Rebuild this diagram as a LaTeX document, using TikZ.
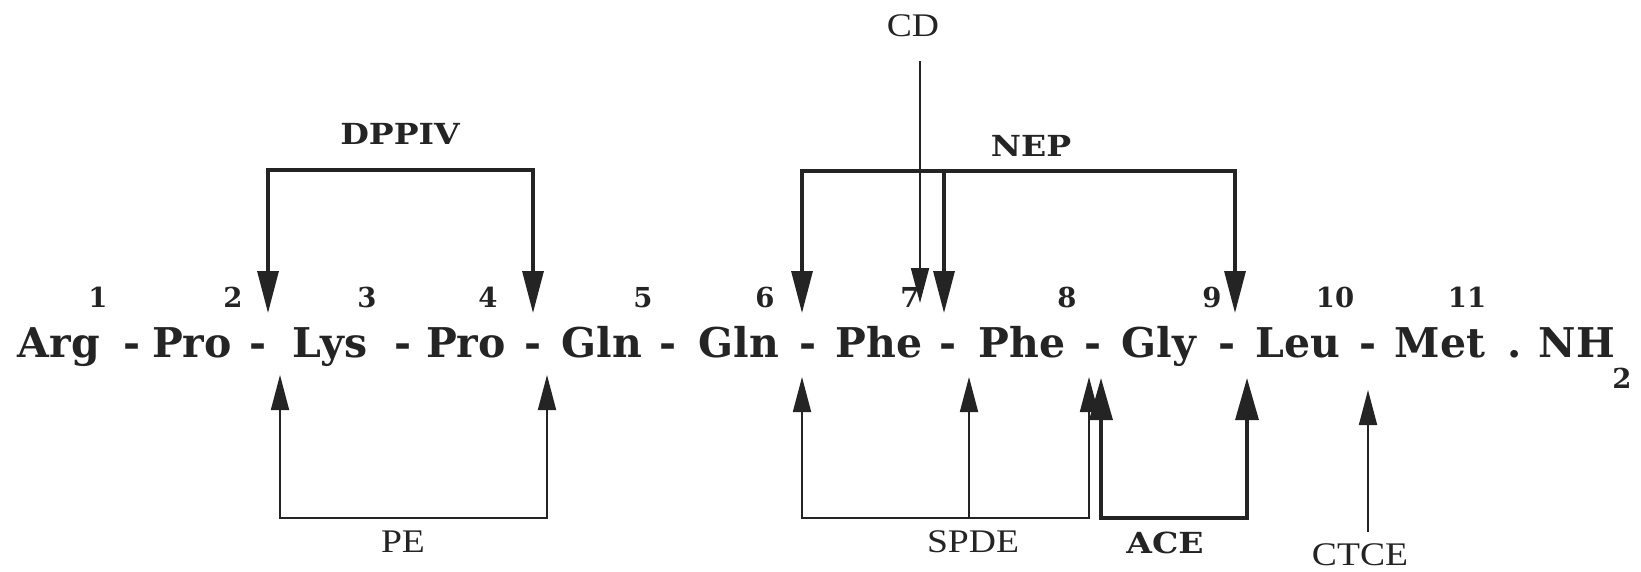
\documentclass[tikz,border=0pt]{standalone}
\usepackage{fontspec}
\usepackage{graphicx}
\usetikzlibrary{arrows.meta}
\newfontfamily\bkf{DejaVu Serif}
\newfontfamily\scf{Liberation Serif}
\definecolor{ink}{RGB}{36,36,36}
\newcommand{\wide}[1]{\scalebox{1.14}[1]{#1}}
\begin{document}
\begin{tikzpicture}[x=1pt,y=-1pt,
  res/.style={anchor=base, inner sep=0pt, text=ink, font=\bkf\bfseries\fontsize{41}{46}\selectfont},
  num/.style={anchor=base, inner sep=0pt, text=ink, font=\bkf\bfseries\fontsize{27.5}{30}\selectfont},
  enzb/.style={anchor=base, inner sep=0pt, text=ink, font=\bkf\bfseries\fontsize{29}{32}\selectfont},
  enzr/.style={anchor=base, inner sep=0pt, text=ink, font=\scf\fontsize{33}{36}\selectfont},
  hvy/.style={draw=ink, line width=3.2pt, line join=miter},
  lgt/.style={draw=ink, line width=1.8pt, line join=miter},
  hvyboth/.style={{Triangle[length=42pt,width=21pt]}-{Triangle[length=42pt,width=21pt]}},
  hvyend/.style={-{Triangle[length=42pt,width=21pt]}},
  lgtboth/.style={{Triangle[length=35pt,width=18pt]}-{Triangle[length=35pt,width=18pt]}},
  lgtend/.style={-{Triangle[length=35pt,width=18pt]}}
]
\fill[white] (0,0) rectangle (1641,572);
\useasboundingbox (0,0) rectangle (1641,572);

% position numbers
\node[num] (n1) at (98,307) {1};
\node[num] (n2) at (233,307) {2};
\node[num] (n3) at (367,307) {3};
\node[num] (n4) at (488,307) {4};
\node[num] (n5) at (643,307) {5};
\node[num] (n6) at (765,307) {6};
\node[num] (n7) at (910,307) {7};
\node[num] (n8) at (1067,307) {8};
\node[num] (n9) at (1212,307) {9};
\node[num] (n10) at (1335,307) {10};
\node[num] (n11) at (1467,307) {11};

% residues
\node[res] (r1) at (59,357) {Arg};
\node[res] (d1) at (132,357) {-};
\node[res] (r2) at (192,357) {Pro};
\node[res] (d2) at (258,357) {-};
\node[res] (r3) at (330,357) {Lys};
\node[res] (d3) at (403,357) {-};
\node[res] (r4) at (466,357) {Pro};
\node[res] (d4) at (533,357) {-};
\node[res] (r5) at (602,357) {Gln};
\node[res] (d5) at (668,357) {-};
\node[res] (r6) at (739,357) {Gln};
\node[res] (d6) at (808,357) {-};
\node[res] (r7) at (879,357) {Phe};
\node[res] (d7) at (948,357) {-};
\node[res] (r8) at (1022,357) {Phe};
\node[res] (d8) at (1093,357) {-};
\node[res] (r9) at (1159,357) {Gly};
\node[res] (d9) at (1227,357) {-};
\node[res] (r10) at (1298,357) {Leu};
\node[res] (d10) at (1368,357) {-};
\node[res] (r11) at (1440,357) {Met};
\node[res] (dot) at (1515,357) {.};
\node[res] (nh) at (1577,357) {NH};
\node[num] (sub) at (1622,388) {2};

% enzyme labels
\node[enzb] (dppiv) at (400,145) {\wide{DPPIV}};
\node[enzb] (nep) at (1031,157) {\wide{NEP}};
\node[enzb] (ace) at (1165,553) {\wide{ACE}};
\node[enzr] (cd) at (913,37) {\wide{CD}};
\node[enzr] (pe) at (403,552) {\wide{PE}};
\node[enzr] (spde) at (973,552) {\wide{SPDE}};
\node[enzr] (ctce) at (1360,565) {\wide{CTCE}};

% DPPIV
\coordinate (dpL) at (268,313);
\coordinate (dpR) at (533,313);
\coordinate (dpM) at (400,170);
\draw[hvy,hvyboth] (dpL) |- (dpM) -| (dpR);

% NEP
\coordinate (nepL) at (802,313);
\coordinate (nepB) at (944,313);
\coordinate (nepR) at (1235,313);
\coordinate (nepM) at (1031,171);
\coordinate (nepBt) at (944,171);
\draw[hvy,hvyboth] (nepL) |- (nepM) -| (nepR);
\draw[hvy,hvyend] (nepBt) -- (nepB);

% CD
\coordinate (cdt) at (920,61);
\coordinate (cdh) at (920,303);
\draw[lgt,lgtend] (cdt) -- (cdh);

% PE
\coordinate (peL) at (280,375);
\coordinate (peR) at (547,375);
\coordinate (peM) at (413,518);
\draw[lgt,lgtboth] (peL) |- (peM) -| (peR);

% SPDE
\coordinate (spL) at (802,377);
\coordinate (spC) at (969,377);
\coordinate (spR) at (1089,377);
\coordinate (spM) at (969,518);
\draw[lgt,lgtboth] (spL) |- (spM) -| (spR);
\draw[lgt,lgtend] (spM) -- (spC);

% ACE
\coordinate (acL) at (1101,378);
\coordinate (acR) at (1247,378);
\coordinate (acM) at (1174,518);
\draw[hvy,{Triangle[length=42pt,width=23pt]}-{Triangle[length=42pt,width=23pt]}] (acL) |- (acM) -| (acR);

% CTCE
\coordinate (ctB) at (1368,532);
\coordinate (ctT) at (1368,390);
\draw[lgt,lgtend] (ctB) -- (ctT);
\end{tikzpicture}
\end{document}
